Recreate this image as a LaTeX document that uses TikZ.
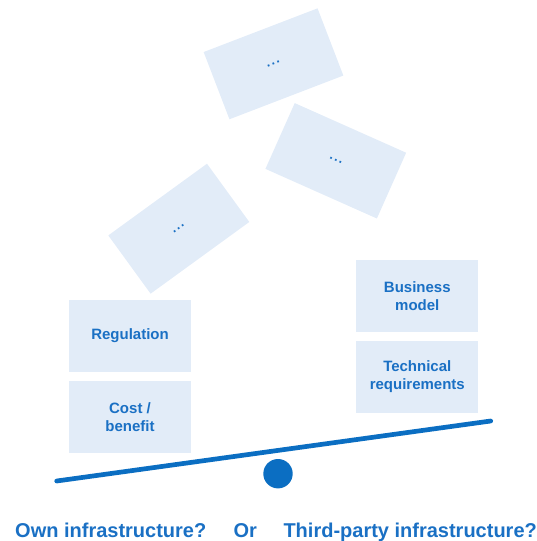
\documentclass[tikz,border=0pt]{standalone}
\usepackage{fontspec}
\setmainfont{Liberation Sans}
\definecolor{boxfill}{HTML}{E2ECF8}
\definecolor{txtblue}{HTML}{1A70C4}
\definecolor{beamblue}{HTML}{0B6EC2}
\newcommand{\spdots}{.\hspace{1.4pt}.\hspace{1.4pt}.}
\begin{document}
\begin{tikzpicture}[x=1pt,y=-1pt,
  factor/.style={fill=boxfill,draw=none,minimum width=122pt,minimum height=72pt,inner sep=0pt,
    align=center,text=txtblue,font=\fontsize{15}{18}\selectfont\bfseries},
  dotsbox/.style={fill=boxfill,draw=none,minimum width=122pt,minimum height=72pt,inner sep=0pt,
    text=txtblue,font=\fontsize{13}{15}\selectfont\bfseries},
  question/.style={anchor=base west,inner sep=0pt,text=txtblue,font=\fontsize{20}{24}\selectfont\bfseries}]
\useasboundingbox (0,0) rectangle (536,541);
% falling boxes
\node[dotsbox,rotate=21] (top) at (273.5,63.8) {\spdots};
\node[dotsbox,rotate=-24] (mid) at (335.8,160.8) {\spdots};
\node[dotsbox,rotate=36] (left) at (178.8,228.7) {\spdots};
% stacked boxes
\node[factor] (reg) at (130,336) {Regulation};
\node[factor] (cost) at (130,417.3) {Cost /\\benefit};
\node[factor] (bus) at (417.3,296) {Business\\model};
\node[factor] (tech) at (417.3,376.7) {Technical\\requirements};
% beam and fulcrum
\coordinate (bl) at (56.7,481);
\coordinate (br) at (490.7,421);
\draw[beamblue,line width=4.7pt,line cap=round] (bl) -- (br);
\node[circle,fill=beamblue,draw=none,minimum size=29.4pt,inner sep=0pt] (ball) at (278,473.7) {};
% questions
\node[question] (own) at (15,537.5) {Own infrastructure?};
\node[question] (or) at (233.3,537.5) {Or};
\node[question] (third) at (283.3,537.5) {Third-party infrastructure?};
\end{tikzpicture}
\end{document}
